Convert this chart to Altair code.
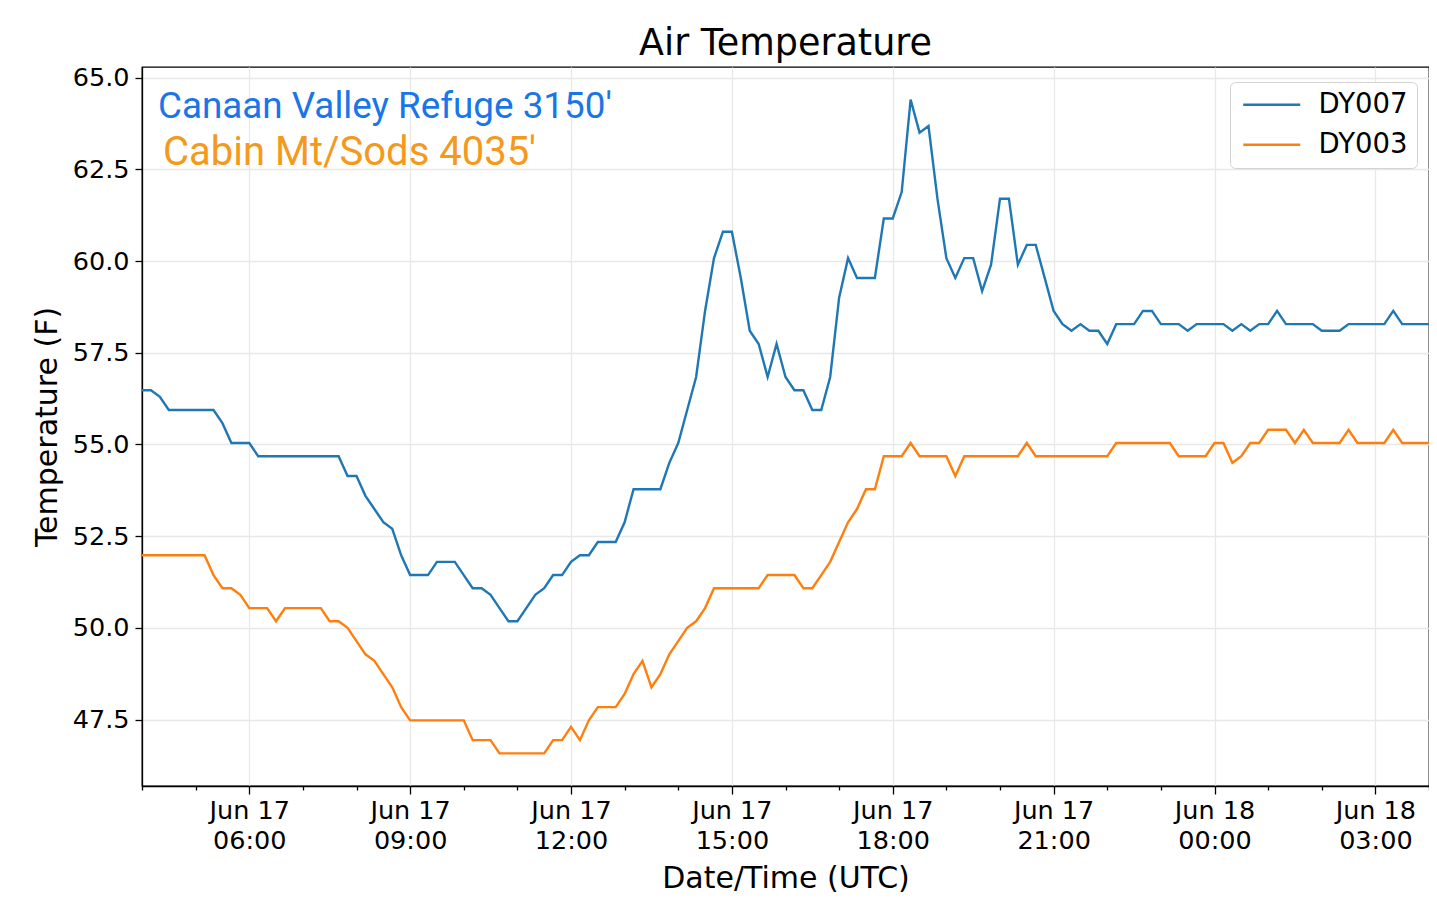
import altair as alt
import pandas as pd

# ---------------- data (10-minute samples, 04:00 UTC Jun 17 -> 04:00 UTC Jun 18) -------------
series_names = ["DY007", "DY003"]
series_colors = ["#1f77b4", "#ff7f0e"]

dy007 = [
    56.48, 56.48, 56.30, 55.94, 55.94, 55.94, 55.94, 55.94, 55.94, 55.58,
    55.04, 55.04, 55.04, 54.68, 54.68, 54.68, 54.68, 54.68, 54.68, 54.68,
    54.68, 54.68, 54.68, 54.14, 54.14, 53.60, 53.24, 52.88, 52.70, 51.98,
    51.44, 51.44, 51.44, 51.80, 51.80, 51.80, 51.44, 51.08, 51.08, 50.90,
    50.54, 50.18, 50.18, 50.54, 50.90, 51.08, 51.44, 51.44, 51.80, 51.98,
    51.98, 52.34, 52.34, 52.34, 52.88, 53.78, 53.78, 53.78, 53.78, 54.50,
    55.04, 55.94, 56.84, 58.64, 60.08, 60.80, 60.80, 59.54, 58.10, 57.74,
    56.84, 57.74, 56.84, 56.48, 56.48, 55.94, 55.94, 56.84, 59.00, 60.08,
    59.54, 59.54, 59.54, 61.16, 61.16, 61.88, 64.40, 63.50, 63.68, 61.70,
    60.08, 59.54, 60.08, 60.08, 59.18, 59.90, 61.70, 61.70, 59.90, 60.44,
    60.44, 59.54, 58.64, 58.28, 58.10, 58.28, 58.10, 58.10, 57.74, 58.28,
    58.28, 58.28, 58.64, 58.64, 58.28, 58.28, 58.28, 58.10, 58.28, 58.28,
    58.28, 58.28, 58.10, 58.28, 58.10, 58.28, 58.28, 58.64, 58.28, 58.28,
    58.28, 58.28, 58.10, 58.10, 58.10, 58.28, 58.28, 58.28, 58.28, 58.28,
    58.64, 58.28, 58.28, 58.28, 58.28,
]

dy003 = [
    51.98, 51.98, 51.98, 51.98, 51.98, 51.98, 51.98, 51.98, 51.44, 51.08,
    51.08, 50.90, 50.54, 50.54, 50.54, 50.18, 50.54, 50.54, 50.54, 50.54,
    50.54, 50.18, 50.18, 50.00, 49.64, 49.28, 49.10, 48.74, 48.38, 47.84,
    47.48, 47.48, 47.48, 47.48, 47.48, 47.48, 47.48, 46.94, 46.94, 46.94,
    46.58, 46.58, 46.58, 46.58, 46.58, 46.58, 46.94, 46.94, 47.30, 46.94,
    47.48, 47.84, 47.84, 47.84, 48.20, 48.74, 49.10, 48.38, 48.74, 49.28,
    49.64, 50.00, 50.18, 50.54, 51.08, 51.08, 51.08, 51.08, 51.08, 51.08,
    51.44, 51.44, 51.44, 51.44, 51.08, 51.08, 51.44, 51.80, 52.34, 52.88,
    53.24, 53.78, 53.78, 54.68, 54.68, 54.68, 55.04, 54.68, 54.68, 54.68,
    54.68, 54.14, 54.68, 54.68, 54.68, 54.68, 54.68, 54.68, 54.68, 55.04,
    54.68, 54.68, 54.68, 54.68, 54.68, 54.68, 54.68, 54.68, 54.68, 55.04,
    55.04, 55.04, 55.04, 55.04, 55.04, 55.04, 54.68, 54.68, 54.68, 54.68,
    55.04, 55.04, 54.50, 54.68, 55.04, 55.04, 55.40, 55.40, 55.40, 55.04,
    55.40, 55.04, 55.04, 55.04, 55.04, 55.40, 55.04, 55.04, 55.04, 55.04,
    55.40, 55.04, 55.04, 55.04, 55.04,
]

y_ticks = [47.5, 50.0, 52.5, 55.0, 57.5, 60.0, 62.5, 65.0]
annotation_texts = ["Canaan Valley Refuge 3150'", "Cabin Mt/Sods 4035'"]
annotation_colors = ["#1a75e8", "#f5991c"]

t_start = pd.Timestamp("2019-06-17 04:00", tz="UTC")
t_end = pd.Timestamp("2019-06-18 04:00", tz="UTC")
times = pd.date_range(t_start, t_end, freq="10min")
time_str = [t.strftime("%Y-%m-%dT%H:%M:%SZ") for t in times]

df = pd.DataFrame({
    "time": time_str * 2,
    "temp": dy007 + dy003,
    "sensor": [series_names[0]] * len(dy007) + [series_names[1]] * len(dy003),
})

def ms(t):
    return int(t.timestamp() * 1000)

hour_ticks = [ms(t) for t in pd.date_range(t_start, t_end, freq="1h")]
major = "utchours(datum.value) % 3 == 0"

font = "DejaVu Sans"

lines = alt.Chart(df).mark_line(strokeWidth=2.4).encode(
    x=alt.X(
        "time:T",
        scale=alt.Scale(type="utc", domain=[ms(t_start), ms(t_end)]),
        axis=alt.Axis(
            values=hour_ticks,
            labelExpr=f"{major} ? [utcFormat(datum.value, '%b %d'), utcFormat(datum.value, '%H:%M')] : ''",
            tickSize={"condition": {"test": major, "value": 8}, "value": 4},
            gridOpacity={"condition": {"test": major, "value": 1}, "value": 0},
            labelOverlap=False,
            labelFlush=False,
            labelLineHeight=30,
            labelPadding=4,
            titlePadding=10,
            title="Date/Time (UTC)",
        ),
    ),
    y=alt.Y(
        "temp:Q",
        scale=alt.Scale(domain=[45.69, 65.29], nice=False, zero=False),
        axis=alt.Axis(values=y_ticks, format=".1f", tickSize=7, labelPadding=6,
                      titlePadding=10, title="Temperature (F)"),
    ),
    color=alt.Color(
        "sensor:N",
        scale=alt.Scale(domain=series_names, range=series_colors),
        title=None,
        legend=alt.Legend(
            orient="none", legendX=1088, legendY=15,
            symbolType="M-1,0H5", symbolSize=361, symbolStrokeWidth=2.4,
            labelFont=font, labelFontSize=27.5, labelColor="black",
            labelOffset=52, padding=9, rowPadding=11,
            fillColor="white", strokeColor="#d3d3d3", cornerRadius=5,
        ),
    ),
)

ann1 = alt.Chart(pd.DataFrame({"label": [annotation_texts[0]]})).mark_text(
    align="left", baseline="alphabetic", font="Roboto", fontSize=36.8,
    color=annotation_colors[0],
).encode(text="label:N", x=alt.value(16), y=alt.value(51))

ann2 = alt.Chart(pd.DataFrame({"label": [annotation_texts[1]]})).mark_text(
    align="left", baseline="alphabetic", font="Roboto", fontSize=40,
    color=annotation_colors[1],
).encode(text="label:N", x=alt.value(21), y=alt.value(98))

chart = alt.layer(lines, ann1, ann2).properties(
    width=1287,
    height=719,
    padding={"left": 134, "top": 59, "right": 0, "bottom": 120},
    autosize=alt.AutoSizeParams(type="none"),
    title=alt.TitleParams(
        "Air Temperature", font=font, fontSize=36.5, fontWeight="normal",
        color="black", anchor="middle", offset=3,
    ),
).configure_view(
    stroke="black", strokeWidth=1.3,
).configure_axis(
    domainColor="black", domainWidth=1.3, tickColor="black", tickWidth=1.3,
    labelColor="black", titleColor="black", gridColor="#e8e8e8", gridWidth=1.3,
    labelFont=font, titleFont=font, labelFontSize=25.5, titleFontSize=30,
    titleFontWeight="normal",
)

chart.save("out.html", embed_options={"renderer": "svg", "actions": False})
